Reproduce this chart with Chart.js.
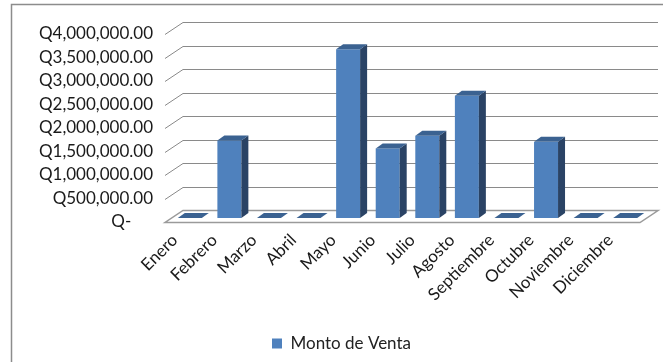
<!DOCTYPE html>
<html>
<head>
<meta charset="utf-8">
<script src="https://cdn.jsdelivr.net/npm/chart.js@4.4.0/dist/chart.umd.min.js"></script>
<style>
  body { margin: 0; background: #fff; }
  canvas { display: block; }
</style>
</head>
<body>
<canvas id="ventas" width="663" height="362"></canvas>
<script>
const meses = ['Enero', 'Febrero', 'Marzo', 'Abril', 'Mayo', 'Junio', 'Julio',
  'Agosto', 'Septiembre', 'Octubre', 'Noviembre', 'Diciembre'];
const montoVenta = [0, 1650000, 0, 0, 3590000, 1480000, 1750000, 2600000, 0, 1620000, 0, 0];
const serieNombre = 'Monto de Venta';
const yMax = 4000000;
const yStep = 500000;

// fake 3d: back wall offset, bar offset from the front plane, bar depth
const WALL_X = 18, WALL_Y = 12;
const BAR_X = 5, BAR_Y = 4;
const DEPTH_X = 7, DEPTH_Y = 5;

const FONT = { family: 'Lato', size: 17 };

// accounting style: zero shows as "Q-" with trailing room for the decimals
function quetzales(v) {
  if (v === 0) return 'Q-     ';
  return 'Q' + v.toLocaleString('en-US', { minimumFractionDigits: 2, maximumFractionDigits: 2 });
}

const marco = {
  id: 'marco',
  beforeDraw(chart) {
    const ctx = chart.ctx;
    ctx.save();
    ctx.fillStyle = '#fff';
    ctx.fillRect(0, 0, chart.width, chart.height);
    ctx.strokeStyle = '#8c8c8c';
    ctx.lineWidth = 1.5;
    ctx.strokeRect(11.5, 4.5, chart.width + 20, chart.height + 20);
    ctx.restore();
  }
};

const barras3d = {
  id: 'barras3d',
  beforeDatasetsDraw(chart) {
    const { ctx, chartArea: a, scales: { y } } = chart;
    ctx.save();

    // back wall gridlines + left side
    ctx.strokeStyle = '#8a8a8a';
    ctx.lineWidth = 1;
    y.ticks.forEach(t => {
      if (t.value === 0) return;
      const py = Math.round(y.getPixelForValue(t.value)) + 0.5;
      ctx.beginPath();
      ctx.moveTo(a.left, py);
      ctx.lineTo(a.left + WALL_X, py - WALL_Y);
      ctx.lineTo(a.right + WALL_X, py - WALL_Y);
      ctx.stroke();
    });

    // floor
    const fy = Math.round(y.getPixelForValue(0)) + 0.5;
    ctx.beginPath();
    ctx.moveTo(a.left, fy);
    ctx.lineTo(a.right, fy);
    ctx.lineTo(a.right + WALL_X, fy - WALL_Y);
    ctx.lineTo(a.left + WALL_X, fy - WALL_Y);
    ctx.closePath();
    ctx.fillStyle = '#fff';
    ctx.fill();
    ctx.strokeStyle = '#9a9a9a';
    ctx.lineWidth = 1.5;
    ctx.stroke();

    // bars
    const meta = chart.getDatasetMeta(0);
    meta.data.forEach(bar => {
      const p = bar.getProps(['x', 'y', 'base', 'width'], true);
      const l = p.x - p.width / 2 + BAR_X;
      const r = p.x + p.width / 2 + BAR_X;
      const top = p.y - BAR_Y;
      const bot = p.base - BAR_Y;

      if (bot - top > 0.5) {
        ctx.fillStyle = '#4f81bd';
        ctx.fillRect(l, top, r - l, bot - top);
        ctx.beginPath();
        ctx.moveTo(r, top);
        ctx.lineTo(r + DEPTH_X, top - DEPTH_Y);
        ctx.lineTo(r + DEPTH_X, bot - DEPTH_Y);
        ctx.lineTo(r, bot);
        ctx.closePath();
        ctx.fillStyle = '#2a4365';
        ctx.fill();
      }
      ctx.beginPath();
      ctx.moveTo(l, top);
      ctx.lineTo(r, top);
      ctx.lineTo(r + DEPTH_X, top - DEPTH_Y);
      ctx.lineTo(l + DEPTH_X, top - DEPTH_Y);
      ctx.closePath();
      ctx.fillStyle = '#3b6291';
      ctx.fill();
    });

    ctx.restore();
    return false;
  }
};

new Chart(document.getElementById('ventas'), {
  type: 'bar',
  data: {
    labels: meses,
    datasets: [{
      label: serieNombre,
      data: montoVenta,
      backgroundColor: '#4f81bd',
      borderWidth: 0,
      categoryPercentage: 1,
      barPercentage: 0.606
    }]
  },
  options: {
    responsive: false,
    animation: false,
    layout: { padding: { top: 34, right: 0, left: 20, bottom: 0 } },
    plugins: {
      tooltip: { enabled: false },
      legend: {
        position: 'bottom',
        labels: { boxWidth: 10, boxHeight: 10, font: FONT, color: '#222' }
      }
    },
    scales: {
      x: {
        grid: { display: false, drawTicks: false },
        border: { display: false },
        ticks: {
          minRotation: 45, maxRotation: 45, autoSkip: false,
          padding: 8, labelOffset: -10, font: FONT, color: '#1a1a1a'
        },
        afterFit(s) { s.height = 103; }
      },
      y: {
        min: 0,
        max: yMax,
        grid: { display: false, drawTicks: false },
        border: { display: false },
        ticks: { stepSize: yStep, padding: 12, font: FONT, color: '#1a1a1a', callback: quetzales },
        afterFit(s) { s.width = 145; }
      },
      // empty axis on the right, only reserves room for the 3d wall
      derecha: {
        position: 'right',
        grid: { display: false, drawTicks: false },
        border: { display: false },
        ticks: { display: false },
        afterFit(s) { s.width = 23; }
      }
    }
  },
  plugins: [marco, barras3d]
});
</script>
</body>
</html>
